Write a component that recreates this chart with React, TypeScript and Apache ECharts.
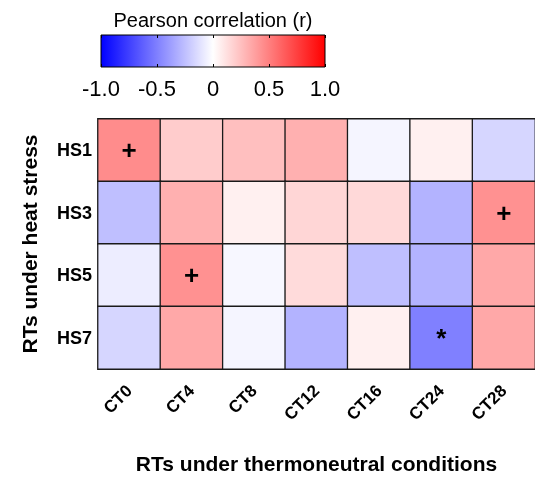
import React, { useEffect, useRef } from "react";
import * as echarts from "echarts";

const xCategories = ["CT0", "CT4", "CT8", "CT12", "CT16", "CT24", "CT28"];
const yCategories = ["HS1", "HS3", "HS5", "HS7"];
const hs1 = [0.45, 0.2, 0.25, 0.31, -0.04, 0.06, -0.16];
const hs3 = [-0.25, 0.31, 0.06, 0.16, 0.15, -0.3, 0.43];
const hs5 = [-0.07, 0.43, -0.03, 0.14, -0.25, -0.3, 0.34];
const hs7 = [-0.16, 0.34, -0.04, -0.3, 0.06, -0.5, 0.34];
const rows = [hs1, hs3, hs5, hs7];
const marksHS1 = ["+", "", "", "", "", "", ""];
const marksHS3 = ["", "", "", "", "", "", "+"];
const marksHS5 = ["", "+", "", "", "", "", ""];
const marksHS7 = ["", "", "", "", "", "*", ""];
const marks = [marksHS1, marksHS3, marksHS5, marksHS7];
const colorbarTicks = [-1, -0.5, 0, 0.5, 1];

const FONT = "Liberation Sans, Arial, sans-serif";

export default function App() {
  const ref = useRef<HTMLDivElement>(null);
  useEffect(() => {
    if (!ref.current) return;
    const chart = echarts.init(ref.current, undefined, { renderer: "svg" });
    const data: any[] = [];
    rows.forEach((r, yi) =>
      r.forEach((v, xi) => data.push({ value: [xi, yi, v], mark: marks[yi][xi] }))
    );
    chart.setOption({
      animation: false,
      textStyle: { fontFamily: FONT },
      visualMap: {
        type: "continuous",
        show: false,
        min: -1,
        max: 1,
        seriesIndex: 0,
        inRange: { color: ["#0000ff", "#ffffff", "#ff0000"] },
      },
      grid: [
        { left: 98, top: 119, width: 441, height: 252 },
        {
          left: 101,
          top: 35,
          width: 224,
          height: 32,
          show: true,
          borderColor: "#000",
          borderWidth: 1,
          backgroundColor: new echarts.graphic.LinearGradient(0, 0, 1, 0, [
            { offset: 0, color: "#0000ff" },
            { offset: 0.5, color: "#ffffff" },
            { offset: 1, color: "#ff0000" },
          ]),
        },
      ],
      xAxis: [
        {
          type: "category",
          gridIndex: 0,
          data: xCategories,
          axisLine: { show: false },
          axisTick: { show: false },
          splitLine: { show: false },
          axisLabel: {
            rotate: 45,
            fontWeight: "bold",
            fontSize: 17,
            color: "#000",
            margin: 19,
            fontFamily: FONT,
          },
          name: "RTs under thermoneutral conditions",
          nameLocation: "middle",
          nameGap: 84,
          nameTextStyle: { fontWeight: "bold", fontSize: 21, color: "#000", fontFamily: FONT },
        },
        {
          type: "value",
          gridIndex: 1,
          min: -1,
          max: 1,
          interval: 0.5,
          axisLine: { show: false },
          splitLine: { show: false },
          axisTick: { show: true, inside: true, length: 3, lineStyle: { color: "#000" } },
          axisLabel: {
            fontSize: 22,
            color: "#000",
            margin: 10,
            fontFamily: FONT,
            customValues: colorbarTicks,
            formatter: (v: number) => (v === 0 ? "0" : v.toFixed(1)),
          },
        },
        {
          type: "value",
          gridIndex: 1,
          position: "top",
          min: -1,
          max: 1,
          interval: 0.5,
          axisLine: { show: false },
          splitLine: { show: false },
          axisTick: { show: true, inside: true, length: 3, lineStyle: { color: "#000" } },
          axisLabel: { show: false },
          name: "Pearson correlation (r)",
          nameLocation: "middle",
          nameGap: 5,
          nameTextStyle: { fontSize: 20, color: "#000", fontFamily: FONT },
        },
      ],
      yAxis: [
        {
          type: "category",
          gridIndex: 0,
          data: yCategories,
          inverse: true,
          axisLine: { show: false },
          axisTick: { show: false },
          splitLine: { show: false },
          axisLabel: {
            fontWeight: "bold",
            fontSize: 18,
            color: "#000",
            margin: 6,
            fontFamily: FONT,
          },
          name: "RTs under heat stress",
          nameLocation: "middle",
          nameGap: 58,
          nameTextStyle: { fontWeight: "bold", fontSize: 21, color: "#000", fontFamily: FONT },
        },
        { type: "value", gridIndex: 1, show: false, min: 0, max: 1 },
      ],
      series: [
        {
          type: "heatmap",
          xAxisIndex: 0,
          yAxisIndex: 0,
          data,
          itemStyle: { borderColor: "#1a1a1a", borderWidth: 1.3 },
          label: {
            show: true,
            formatter: (p: any) => p.data.mark,
            color: "#000",
            fontWeight: "bold",
            fontSize: 26,
            fontFamily: FONT,
          },
          emphasis: { disabled: true },
        },
      ],
    });
    return () => chart.dispose();
  }, []);
  return (
    <div
      ref={ref}
      style={{ position: "fixed", left: 0, top: 0, width: 535, height: 479 }}
    />
  );
}
